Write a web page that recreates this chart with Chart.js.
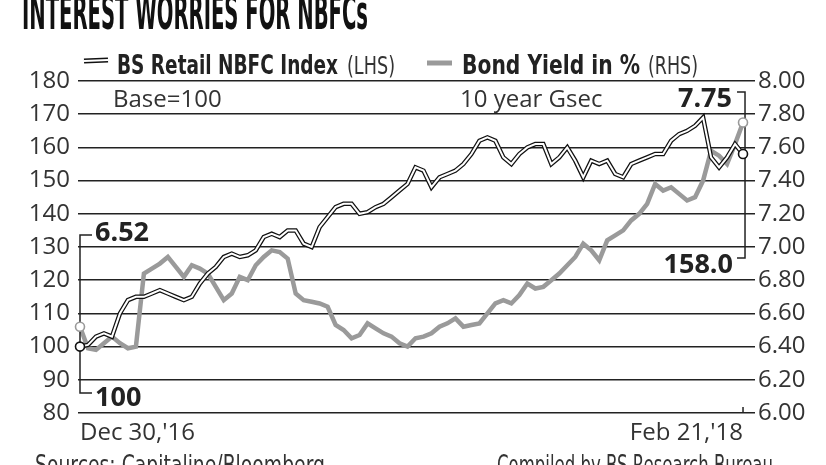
<!DOCTYPE html>
<html>
<head>
<meta charset="utf-8">
<script src="https://cdn.jsdelivr.net/npm/chart.js@4.4.0/dist/chart.umd.min.js"></script>
<style>
html, body { margin: 0; padding: 0; background: #fff; overflow: hidden; }
#wrap { position: relative; width: 826px; height: 465px; }
#title { position: absolute; left: 22px; top: -12px; font: bold 48px "DejaVu Sans Condensed", "Liberation Sans Narrow", sans-serif; line-height: 48px; color: #111; white-space: nowrap; transform-origin: 0 0; }
.foot { position: absolute; top: 452px; font: 26px "DejaVu Sans Condensed", "Liberation Sans Narrow", sans-serif; line-height: 26px; color: #333; white-space: nowrap; transform-origin: 0 0; }
canvas { position: absolute; left: 0; top: 0; }
</style>
</head>
<body>
<div id="wrap">
  <canvas id="myChart" width="826" height="465"></canvas>
  <div id="title" class="fit" data-w="346">INTEREST WORRIES FOR NBFCs</div>
  <div class="foot fit" data-w="290" style="left:35px">Sources: Capitaline/Bloomberg</div>
  <div class="foot fit" data-w="276" style="left:497px">Compiled by BS Research Bureau</div>
</div>
<script>
// first and last dates on the x axis
var tickLabels = ["Dec 30,'16", "Feb 21,'18"];

// BS Retail NBFC Index, base = 100 (LHS)
var nbfcIndex = [100, 100.5, 103, 104, 103, 110, 114, 115, 115, 116,
                 117, 116, 115, 114, 115, 119, 122, 124, 127, 128,
                 127, 127.5, 129, 133, 134, 133, 135, 135, 131, 130,
                 136, 139, 142, 143, 143, 140, 140.5, 142, 143, 145,
                 147, 149, 154, 153, 148, 151, 152, 153, 155, 158,
                 162, 163, 162, 157, 155, 158, 160, 161, 161, 155,
                 157, 160, 156, 151, 156, 155, 156, 152, 151, 155,
                 156, 157, 158, 158, 162, 164, 165, 166.5, 169, 157,
                 154, 157, 161, 158];

// 10 year Gsec bond yield in % (RHS)
var bondYield = [6.52, 6.39, 6.38, 6.42, 6.46, 6.42, 6.39, 6.40, 6.84, 6.87,
                 6.90, 6.94, 6.88, 6.82, 6.89, 6.87, 6.84, 6.76, 6.68, 6.72,
                 6.82, 6.80, 6.89, 6.94, 6.98, 6.97, 6.93, 6.72, 6.68, 6.67,
                 6.66, 6.64, 6.53, 6.50, 6.45, 6.47, 6.54, 6.51, 6.48, 6.46,
                 6.42, 6.40, 6.45, 6.46, 6.48, 6.52, 6.54, 6.57, 6.52, 6.53,
                 6.54, 6.60, 6.66, 6.68, 6.66, 6.71, 6.78, 6.75, 6.76, 6.80,
                 6.84, 6.89, 6.94, 7.02, 6.98, 6.92, 7.04, 7.07, 7.10, 7.16,
                 7.20, 7.26, 7.38, 7.34, 7.36, 7.32, 7.28, 7.30, 7.40, 7.58,
                 7.55, 7.50, 7.62, 7.75];

var last = nbfcIndex.length - 1;
var pts = function (arr) { return arr.map(function (v, i) { return { x: i, y: v }; }); };

var tickFont = { family: 'Open Sans', size: 24 };

// squeeze the html texts to the widths they have in print
document.querySelectorAll('.fit').forEach(function (el) {
  var w = el.getBoundingClientRect().width;
  el.style.transform = 'scaleX(' + (+el.dataset.w / w) + ')';
});

// write canvas text squeezed to a given width
function fitText(c, text, x, y, w, font, color) {
  c.font = font;
  c.fillStyle = color;
  c.textAlign = 'left';
  c.textBaseline = 'alphabetic';
  var m = c.measureText(text).width;
  c.save();
  c.translate(x, y);
  c.scale(w / m, 1);
  c.fillText(text, 0, 0);
  c.restore();
}

var notes = {
  id: 'notes',
  afterDatasetsDraw: function (chart) {
    var c = chart.ctx;
    var xs = chart.scales.x, ys = chart.scales.y, yr = chart.scales.y1;
    var x0 = xs.getPixelForValue(0), xN = xs.getPixelForValue(last);
    c.save();

    // brackets
    c.strokeStyle = '#222';
    c.lineWidth = 1.5;
    c.beginPath();
    c.moveTo(x0 + 12, 235); c.lineTo(x0, 235); c.lineTo(x0, 393); c.lineTo(x0 + 12, 393);
    c.moveTo(xN - 6, 92); c.lineTo(xN + 2, 92); c.lineTo(xN + 2, 258); c.lineTo(xN - 6, 258);
    c.moveTo(xN, 407); c.lineTo(xN, 413);
    c.stroke();

    // end point circles
    var circ = function (x, y, col) {
      c.beginPath();
      c.arc(x, y, 4.5, 0, Math.PI * 2);
      c.fillStyle = '#fff';
      c.fill();
      c.strokeStyle = col;
      c.lineWidth = 1.6;
      c.stroke();
    };
    circ(x0, yr.getPixelForValue(bondYield[0]), '#9a9a9a');
    circ(x0, ys.getPixelForValue(nbfcIndex[0]), '#111');
    circ(xN, yr.getPixelForValue(bondYield[last]), '#9a9a9a');
    circ(xN, ys.getPixelForValue(nbfcIndex[last]), '#111');

    // bold value labels
    c.font = 'bold 27px "Open Sans"';
    c.fillStyle = '#222';
    c.textBaseline = 'alphabetic';
    c.textAlign = 'left';
    c.fillText(bondYield[0].toFixed(2), 95, 241);
    c.fillText(String(nbfcIndex[0]), 95, 406);
    c.textAlign = 'right';
    c.fillText(bondYield[last].toFixed(2), 732, 107);
    c.fillText(nbfcIndex[last].toFixed(1), 733, 273);

    // sub notes
    c.font = '24px "Open Sans"';
    c.fillStyle = '#333';
    c.textAlign = 'left';
    c.fillText('Base=100', 113, 107);
    c.fillText('10 year Gsec', 460, 107);

    // legend
    c.lineCap = 'butt';
    c.beginPath(); c.moveTo(84, 61); c.lineTo(108, 60);
    c.strokeStyle = '#111'; c.lineWidth = 5; c.stroke();
    c.strokeStyle = '#fff'; c.lineWidth = 2; c.stroke();
    c.beginPath(); c.moveTo(427, 63); c.lineTo(452, 63);
    c.strokeStyle = '#9a9a9a'; c.lineWidth = 5; c.stroke();
    var boldF = 'bold 26px "DejaVu Sans Condensed", "Liberation Sans Narrow", sans-serif';
    var regF = '25px "DejaVu Sans Condensed", "Liberation Sans Narrow", sans-serif';
    fitText(c, 'BS Retail NBFC Index', 117, 74, 221, boldF, '#222');
    fitText(c, '(LHS)', 347, 74, 48, regF, '#333');
    fitText(c, 'Bond Yield in %', 462, 74, 178, boldF, '#222');
    fitText(c, '(RHS)', 648, 74, 50, regF, '#333');

    c.restore();
  }
};

var ctx = document.getElementById('myChart').getContext('2d');

var myChart = new Chart(ctx, {
  type: 'line',
  data: {
    datasets: [{
      label: 'BS Retail NBFC Index',
      data: pts(nbfcIndex),
      yAxisID: 'y',
      borderColor: '#fff',
      borderWidth: 2,
      pointRadius: 0,
      order: 0
    }, {
      label: 'BS Retail NBFC Index outline',
      data: pts(nbfcIndex),
      yAxisID: 'y',
      borderColor: '#111',
      borderWidth: 4.5,
      pointRadius: 0,
      order: 1
    }, {
      label: 'Bond Yield in %',
      data: pts(bondYield),
      yAxisID: 'y1',
      borderColor: '#9a9a9a',
      borderWidth: 4.5,
      pointRadius: 0,
      order: 2
    }]
  },
  options: {
    responsive: false,
    animation: false,
    devicePixelRatio: 1,
    layout: { padding: { top: 81, left: 0, right: 0, bottom: 0 } },
    plugins: { legend: { display: false }, tooltip: { enabled: false } },
    scales: {
      x: {
        type: 'linear',
        min: -0.25,
        max: last + 1.5,
        grid: { display: false, drawTicks: false },
        border: { display: false },
        afterBuildTicks: function (s) { s.ticks = [{ value: 0 }, { value: last }]; },
        afterFit: function (s) { s.height = 52; },
        ticks: {
          align: 'inner',
          padding: 6,
          maxRotation: 0,
          color: '#333',
          font: tickFont,
          callback: function (v) { return v === 0 ? tickLabels[0] : tickLabels[1]; }
        }
      },
      y: {
        position: 'left',
        min: 80,
        max: 180,
        afterFit: function (s) { s.width = 78; },
        grid: { color: '#222', lineWidth: 1.5, drawTicks: false },
        border: { display: false },
        ticks: { stepSize: 10, padding: 8, color: '#333', font: tickFont }
      },
      y1: {
        position: 'right',
        min: 6,
        max: 8,
        afterFit: function (s) { s.width = 71; },
        grid: { display: false, drawTicks: false },
        border: { display: false },
        ticks: {
          stepSize: 0.2, padding: 3, color: '#333', font: tickFont,
          callback: function (v) { return v.toFixed(2); }
        }
      }
    }
  },
  plugins: [notes]
});
</script>
</body>
</html>
